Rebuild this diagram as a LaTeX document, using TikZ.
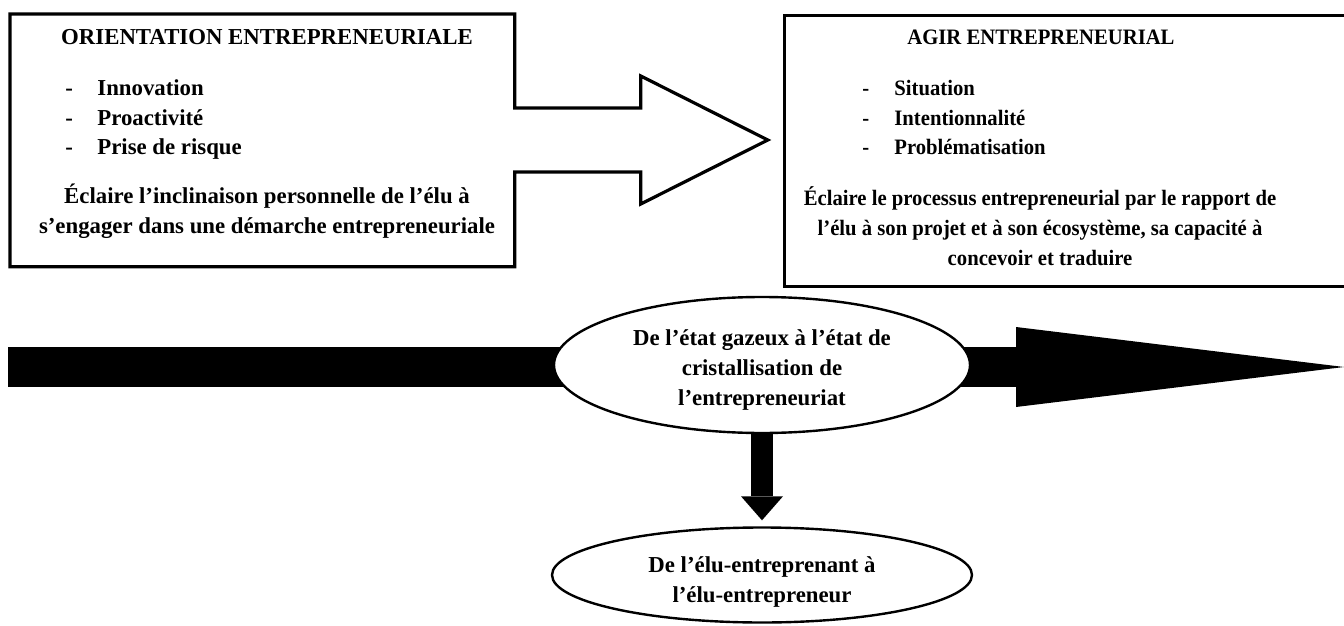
\documentclass[tikz,border=0pt]{standalone}
\usepackage{fontspec}
\setmainfont{Liberation Serif}
\newfontfamily\narrowserif[FakeStretch=0.94]{Liberation Serif}
\usetikzlibrary{shapes.geometric,arrows.meta}
\tikzset{
  frame/.style={line width=1.6pt, line join=miter},
  txt/.style={font=\bfseries\fontsize{11.4}{15}\selectfont, inner sep=0pt},
  narrowtxt/.style={font=\narrowserif\bfseries\fontsize{11}{15}\selectfont, inner sep=0pt},
  bubble/.style={ellipse, draw, line width=1.2pt, fill=white, inner sep=0pt},
  bigarrow/.style={line width=20pt, -{Triangle[width=40pt,length=164pt,line width=0pt]}},
  downarrow/.style={line width=11pt, -{Triangle[width=21pt,length=12pt,line width=0pt]}}
}
\newcommand{\itm}[1]{\makebox[16pt][l]{-}#1}

\begin{document}
\begin{tikzpicture}[x=0.5pt,y=-0.5pt]
  \useasboundingbox (0,0) rectangle (1344,626);
  % boxes
  \node[minimum width=252pt, minimum height=126pt, anchor=north west] (orient) at (10,14) {};
  \draw[frame] (orient.north west) -- (orient.north east) -- ++(0,94) -- ++(126,0) -- ++(0,-32)
    -- ++(127,64) -- ++(-127,64) -- ++(0,-32) -- ++(-126,0) -- (orient.south east)
    -- (orient.south west) -- cycle;
  \node[draw, frame, minimum width=310pt, minimum height=135.5pt, anchor=north west] (agir) at (783,14) {};
  % left texts
  \node[txt, anchor=base] (orienthead) at (267,45) {ORIENTATION ENTREPRENEURIALE};
  \node[txt, anchor=base west] (inno) at (65,96) {\itm{Innovation}};
  \node[txt, anchor=base west] (proa) at (65,126) {\itm{Proactivité}};
  \node[txt, anchor=base west] (risq) at (65,155) {\itm{Prise de risque}};
  \node[txt, anchor=base, align=center] (orientpara) at (267,233)
    {Éclaire l’inclinaison personnelle de l’élu à\\s’engager dans une démarche entrepreneuriale};
  % right texts
  \node[narrowtxt, anchor=base] (agirhead) at (1041,45) {AGIR ENTREPRENEURIAL};
  \node[narrowtxt, anchor=base west] (situ) at (862,96) {\itm{Situation}};
  \node[narrowtxt, anchor=base west] (inte) at (862,126) {\itm{Intentionnalité}};
  \node[narrowtxt, anchor=base west] (prob) at (862,155) {\itm{Problématisation}};
  \node[narrowtxt, anchor=base, align=center] (agirpara) at (1040,265)
    {Éclaire le processus entrepreneurial par le rapport de\\l’élu à son projet et à son écosystème, sa capacité à\\concevoir et traduire};
  % timeline
  \coordinate (start) at (8,367);
  \coordinate (tip) at (1344,367);
  \draw[bigarrow] (start) -- (tip);
  \node[bubble, minimum width=208pt, minimum height=68pt] (gaz) at (762,365) {};
  \node[txt, anchor=base, align=center] (gaztext) at (762,405)
    {De l’état gazeux à l’état de\\cristallisation de\\l’entrepreneuriat};
  \node[bubble, minimum width=210pt, minimum height=47.5pt] (elu) at (762,575) {};
  \node[txt, anchor=base, align=center] (elutext) at (762,602)
    {De l’élu-entreprenant à\\l’élu-entrepreneur};
  \draw[downarrow, shorten >=3pt] (gaz.south) -- (elu.north);
\end{tikzpicture}
\end{document}
